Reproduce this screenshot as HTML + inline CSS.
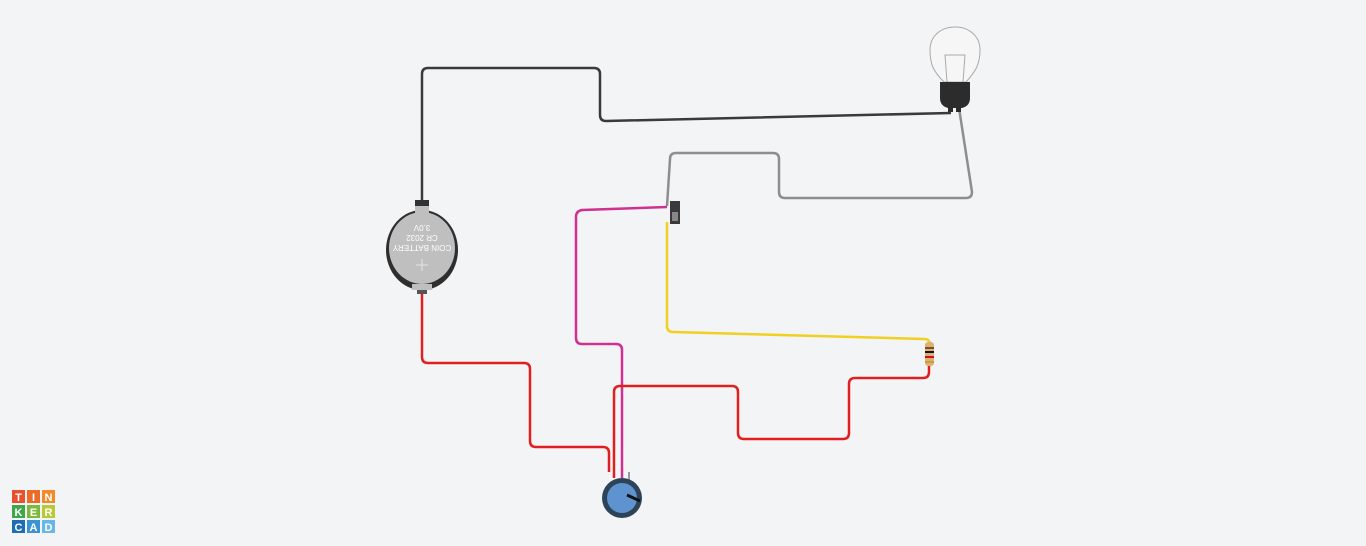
<!DOCTYPE html>
<html><head><meta charset="utf-8"><style>
html,body{margin:0;padding:0;background:#f3f4f6;}
svg{display:block}
</style></head><body>
<svg width="1366" height="546" viewBox="0 0 1366 546">
<rect width="1366" height="546" fill="#f3f4f6"/>
<g fill="none" stroke-width="2.5" stroke-linejoin="round">
<path stroke="#3a3a3a" d="M422 205 V74 Q422 68 428 68 H594 Q600 68 600 74 V115 Q600 121 606 121 L951 113"/>
<path stroke="#8e8e8e" d="M959 108 L972 192 Q972 198 966 198 H785 Q779 198 779 192 V159 Q779 153 773 153 H676 Q670 153 670 159 L667 206"/>
<path stroke="#d0308f" d="M667 207 L582 210 Q576 211 576 217 V338 Q576 344 582 344 H616 Q622 344 622 350 V478"/>
<path stroke="#f0d020" d="M667 222 V326 Q667 332 673 332 L924 339 Q930 339 930 345"/>
<path stroke="#e02020" d="M929 366 V372 Q929 378 923 378 H855 Q849 378 849 384 V433 Q849 439 843 439 H744 Q738 439 738 433 V392 Q738 386 732 386 H620 Q614 386 614 392 V478"/>
<path stroke="#e02020" d="M422 292 V357 Q422 363 428 363 H524 Q530 363 530 369 V441 Q530 447 536 447 H603 Q609 447 609 453 V472"/>
</g>
<g>
<rect x="415" y="200" width="14" height="10" fill="#333"/>
<rect x="417" y="284" width="10" height="10" fill="#555"/>
<ellipse cx="422" cy="250" rx="36" ry="40" fill="#2e2e2e"/>
<ellipse cx="422" cy="248" rx="33" ry="36" fill="#bfbfbf"/>
<rect x="415" y="206" width="14" height="8" fill="#bfbfbf"/>
<rect x="412" y="284" width="20" height="6" fill="#bfbfbf"/>
<g transform="rotate(180 422 238)" font-family="Liberation Sans, sans-serif" font-size="8" fill="#fff" text-anchor="middle">
<text x="422" y="231">COIN BATTERY</text>
<text x="422" y="241">CR 2032</text>
<text x="422" y="251">3.0V</text>
</g>
<path d="M422 259 v12 M416 265 h12" stroke="#e5e5e5" stroke-width="1"/>
</g>
<g>
<path d="M944 82 C934 72 930 65 930 50 C930 36 941 27 955 27 C969 27 980 36 980 50 C980 65 975 72 966 82 Z" fill="#f6f6f6" stroke="#aaa" stroke-width="1"/>
<path d="M947 82 L945 55 H965 L963 82" fill="none" stroke="#aaa" stroke-width="1"/>
<path d="M940 82 H970 V98 Q970 106 962 108 H948 Q940 106 940 98 Z" fill="#2c2c2c"/>
<rect x="948" y="104" width="5" height="8" fill="#2c2c2c"/>
<rect x="956" y="104" width="5" height="8" fill="#2c2c2c"/>
</g>
<g>
<rect x="670" y="201" width="10" height="23" fill="#3a3a3a"/>
<rect x="672" y="212" width="6" height="9" fill="#888"/>
</g>
<g>
<rect x="925" y="342" width="9" height="24" rx="3" fill="#d9b27a"/>
<rect x="925" y="347" width="9" height="2" fill="#8b4a1a"/>
<rect x="925" y="351" width="9" height="2" fill="#111"/>
<rect x="925" y="356" width="9" height="2" fill="#d01010"/>
<rect x="925" y="361" width="9" height="2" fill="#c9a030"/>
</g>
<g>
<rect x="628" y="472" width="2" height="10" fill="#999"/>
<circle cx="622" cy="498" r="20" fill="#2c4358"/>
<circle cx="622" cy="498" r="15" fill="#5f93cf"/>
<line x1="627" y1="495" x2="640" y2="501" stroke="#111" stroke-width="3"/>
</g>
<g font-family="Liberation Sans, sans-serif" font-size="11" font-weight="bold" fill="#fff" text-anchor="middle">
<rect x="12" y="490" width="13" height="13" fill="#e8502e"/><text x="18.5" y="501">T</text>
<rect x="27" y="490" width="13" height="13" fill="#ec6a2a"/><text x="33.5" y="501">I</text>
<rect x="42" y="490" width="13" height="13" fill="#f08a2a"/><text x="48.5" y="501">N</text>
<rect x="12" y="505" width="13" height="13" fill="#3fa64a"/><text x="18.5" y="516">K</text>
<rect x="27" y="505" width="13" height="13" fill="#7cba3e"/><text x="33.5" y="516">E</text>
<rect x="42" y="505" width="13" height="13" fill="#b8c938"/><text x="48.5" y="516">R</text>
<rect x="12" y="520" width="13" height="13" fill="#1f6db5"/><text x="18.5" y="531">C</text>
<rect x="27" y="520" width="13" height="13" fill="#3a93d3"/><text x="33.5" y="531">A</text>
<rect x="42" y="520" width="13" height="13" fill="#6ab6e6"/><text x="48.5" y="531">D</text>
</g>
</svg>
</body></html>
